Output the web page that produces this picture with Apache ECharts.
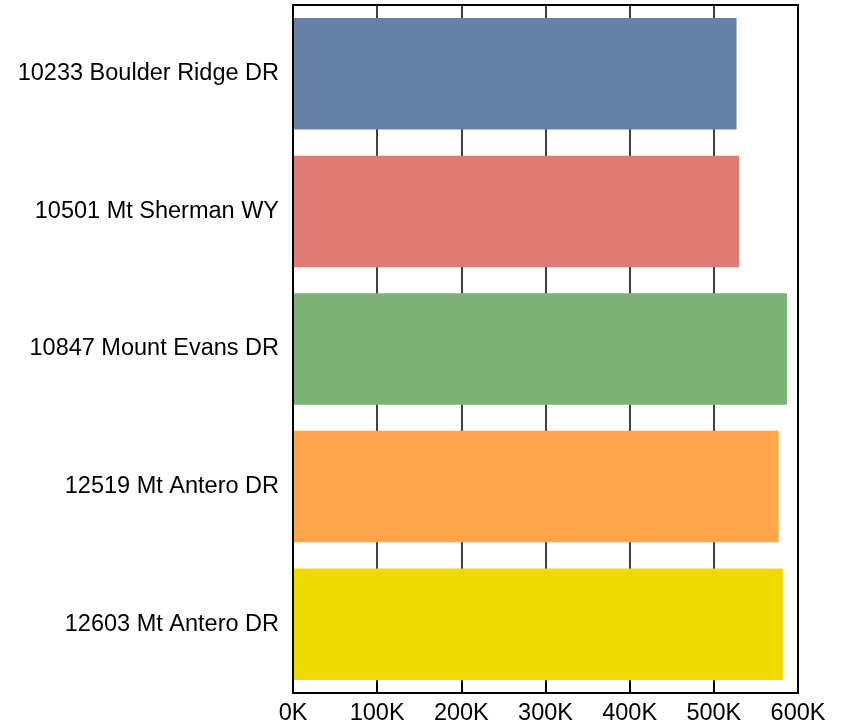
<!DOCTYPE html>
<html>
<head>
<meta charset="utf-8">
<script src="https://cdn.jsdelivr.net/npm/echarts@6/dist/echarts.min.js"></script>
<style>html,body{margin:0;padding:0;background:#fff}#c{width:845px;height:728px}</style>
</head>
<body>
<div id="c"></div>
<script>
const categories = ["10233 Boulder Ridge DR","10501 Mt Sherman WY","10847 Mount Evans DR","12519 Mt Antero DR","12603 Mt Antero DR"];
const values = [527000, 530000, 587000, 577000, 582000];
const colors = ["#6680A8","#E07A74","#7DB277","#FFA64C","#EED900"];
const xTicks = [0,100000,200000,300000,400000,500000,600000];

const chart = echarts.init(document.getElementById('c'), null, {renderer:'canvas'});
chart.setOption({
  animation:false,
  grid:{left:293, right:47, top:5, bottom:35, containLabel:false},
  xAxis:{
    type:'value', min:0, max:600000, interval:100000,
    axisLine:{show:true, lineStyle:{color:'#000', width:2}},
    axisTick:{show:true, inside:true, length:11, lineStyle:{color:'#000', width:2}},
    splitLine:{show:true, lineStyle:{color:'#000', width:1.5}},
    axisLabel:{color:'#000', fontSize:23.5, fontFamily:'Liberation Sans, Arial', margin:9,
      formatter:v=>(v/1000)+'K'}
  },
  yAxis:{
    type:'category', data:categories, inverse:true,
    axisLine:{show:true, lineStyle:{color:'#000', width:2}},
    axisTick:{show:false},
    axisLabel:{color:'#000', fontSize:23.5, fontFamily:'Liberation Sans, Arial', margin:14}
  },
  series:[{
    type:'bar',
    data:values.map((v,i)=>({value:v, itemStyle:{color:colors[i]}})),
    barCategoryGap:'19%'
  }],
  graphic:[{
    type:'rect', shape:{x:293, y:5, width:505, height:688}, style:{fill:'none', stroke:'#000', lineWidth:2}, z:100
  }]
});
</script>
</body>
</html>
